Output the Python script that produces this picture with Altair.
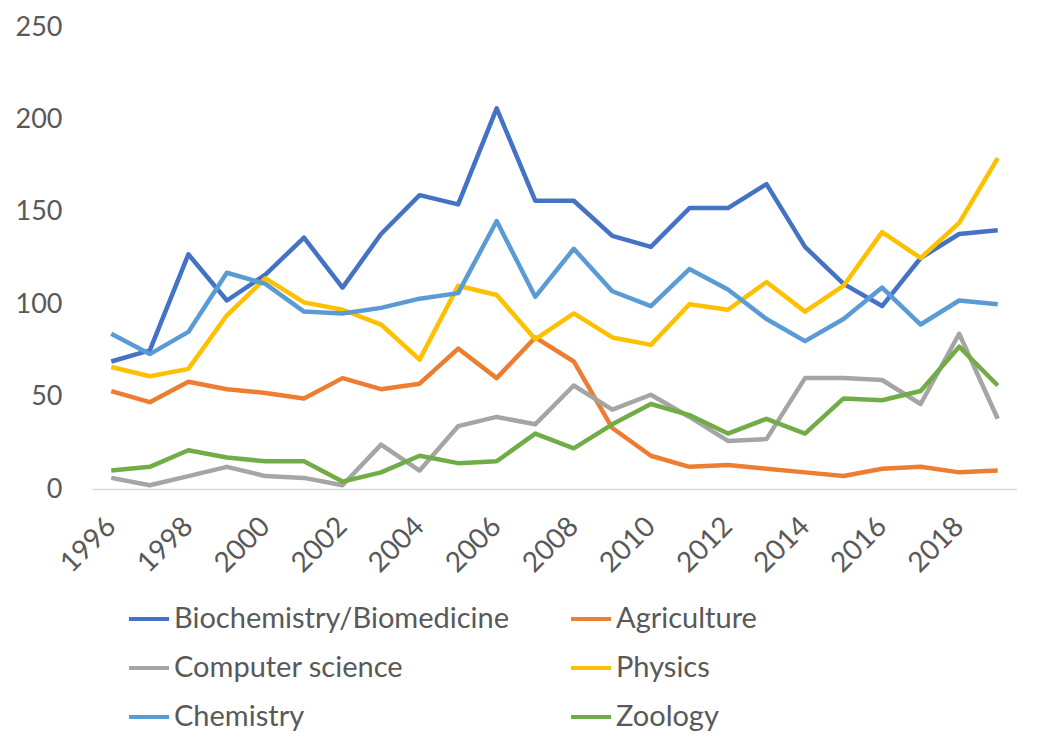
import altair as alt
import pandas as pd

years = list(range(1996, 2020))
series_names = ["Biochemistry/Biomedicine", "Agriculture", "Computer science",
                "Physics", "Chemistry", "Zoology"]
biochem = [69, 75, 127, 102, 116, 136, 109, 138, 159, 154, 206, 156,
           156, 137, 131, 152, 152, 165, 131, 111, 99, 125, 138, 140]
agriculture = [53, 47, 58, 54, 52, 49, 60, 54, 57, 76, 60, 82,
               69, 33, 18, 12, 13, 11, 9, 7, 11, 12, 9, 10]
computer = [6, 2, 7, 12, 7, 6, 2, 24, 10, 34, 39, 35,
            56, 43, 51, 39, 26, 27, 60, 60, 59, 46, 84, 38]
physics = [66, 61, 65, 94, 114, 101, 97, 89, 70, 110, 105, 81,
           95, 82, 78, 100, 97, 112, 96, 110, 139, 125, 144, 179]
chemistry = [84, 73, 85, 117, 111, 96, 95, 98, 103, 106, 145, 104,
             130, 107, 99, 119, 108, 92, 80, 92, 109, 89, 102, 100]
zoology = [10, 12, 21, 17, 15, 15, 4, 9, 18, 14, 15, 30,
           22, 35, 46, 40, 30, 38, 30, 49, 48, 53, 77, 56]
colors = ["#4472C4", "#ED7D31", "#A5A5A5", "#FFC000", "#5B9BD5", "#70AD47"]
x_ticks = list(range(1996, 2019, 2))
y_ticks = [0, 50, 100, 150, 200, 250]

all_series = [biochem, agriculture, computer, physics, chemistry, zoology]
rows = []
for name, vals in zip(series_names, all_series):
    for yr, v in zip(years, vals):
        rows.append({"Year": yr, "Series": name, "Value": v})
df = pd.DataFrame(rows)

# legend fills column by column: left column first, then right column
legend_order = [0, 2, 4, 1, 3, 5]
legend_domain = [series_names[i] for i in legend_order]
legend_colors = [colors[i] for i in legend_order]

label_color = "#595959"

chart = alt.Chart(df).mark_line(strokeWidth=4.5, strokeJoin="round").encode(
    x=alt.X("Year:Q",
            scale=alt.Scale(domain=[1995.5, 2019.5], nice=False, zero=False),
            axis=alt.Axis(values=x_ticks, format="d", labelAngle=-45, title=None,
                          ticks=False, grid=False, domainColor="#D9D9D9",
                          domainWidth=1.5, labelAlign="right", labelBaseline="middle",
                          labelPadding=33, labelFontSize=28, labelColor=label_color,
                          labelFont="Lato")),
    y=alt.Y("Value:Q",
            scale=alt.Scale(domain=[0, 250], nice=False),
            axis=alt.Axis(values=y_ticks, grid=False, domain=False, ticks=False,
                          title=None, labelPadding=30, labelFontSize=27,
                          labelColor=label_color, labelFont="Lato")),
    color=alt.Color("Series:N",
                    scale=alt.Scale(domain=legend_domain, range=legend_colors),
                    legend=alt.Legend(title=None, orient="none", legendX=35, legendY=570,
                                      columns=2, symbolType="stroke", symbolSize=1600,
                                      symbolStrokeWidth=4, labelFontSize=29,
                                      labelFont="Lato", labelColor=label_color,
                                      labelOffset=3, columnPadding=54, rowPadding=12,
                                      labelLimit=600, padding=0)),
).properties(
    width=925, height=462,
    autosize=alt.AutoSizeParams(type="none"),
    padding={"left": 84, "top": 19, "right": 20, "bottom": 250},
).configure_view(stroke=None)

chart.save("out.html", embed_options={"renderer": "svg", "actions": False})
